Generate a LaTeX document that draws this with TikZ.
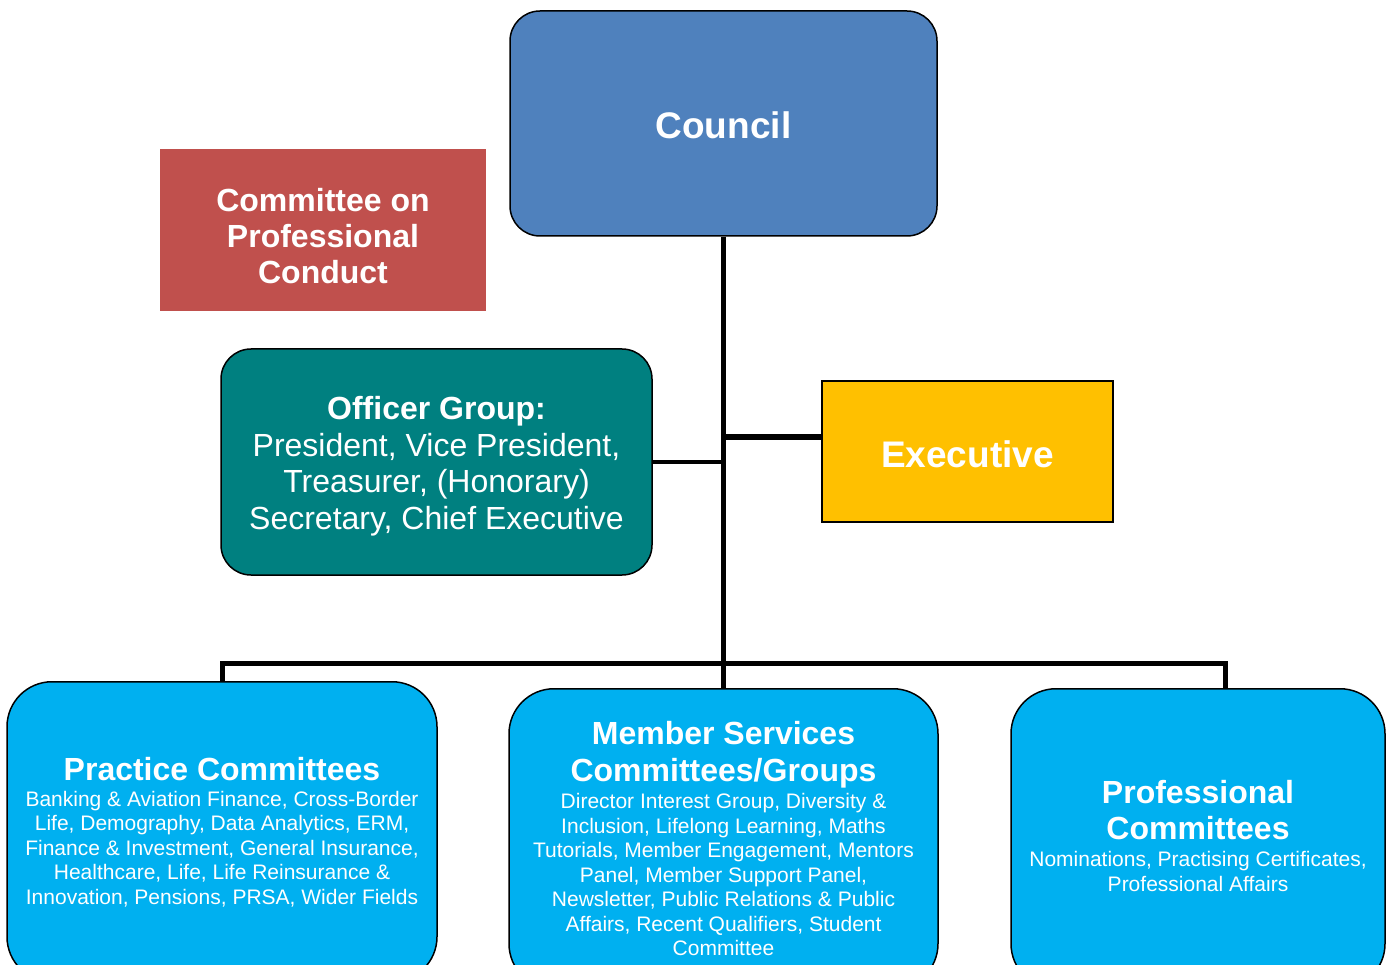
\documentclass[tikz,border=0pt]{standalone}
\usepackage{fontspec}
\setmainfont{Liberation Sans}
\definecolor{councilblue}{HTML}{4F81BD}
\definecolor{conductred}{HTML}{C0504D}
\definecolor{officerteal}{HTML}{008080}
\definecolor{execyellow}{HTML}{FFC000}
\definecolor{committeecyan}{HTML}{00B0F0}
\begin{document}
\begin{tikzpicture}[x=1pt,y=-1pt,
        box/.style={draw=black,line width=1.5pt,text=white,align=center,inner sep=0pt},
        roundbox/.style={box,rounded corners=30pt},
        lowerbox/.style={box,fill=committeecyan,rounded corners=45pt,minimum height=300,anchor=north,
            font=\fontsize{21}{24.5}\selectfont},
        bigtitle/.style={font=\fontsize{37}{40}\selectfont\bfseries},
        link/.style={line width=5pt}]
        \useasboundingbox (0,0) rectangle (1395,965);
        \clip (0,0) rectangle (1395,965);
        \node (council) [roundbox,fill=councilblue,minimum width=427,minimum height=225,bigtitle] at (723.5,123.5) {\rule{0pt}{31pt}Council};
        \node (conduct) [fill=conductred,text=white,align=center,inner sep=0pt,minimum width=326,minimum height=162,
            font=\fontsize{32}{36}\selectfont\bfseries] at (323,230) {\rule{0pt}{35.5pt}Committee on\\Professional\\Conduct};
        \node (officer) [roundbox,fill=officerteal,minimum width=431,minimum height=226,
            font=\fontsize{32}{36.7}\selectfont] at (436.5,462) {\rule{0pt}{31.5pt}\textbf{Officer Group:}\\President, Vice President,\\Treasurer, (Honorary)\\Secretary, Chief Executive};
        \node (exec) [box,fill=execyellow,minimum width=291,minimum height=141,bigtitle] at (967.5,451.5) {\rule{0pt}{33pt}Executive};
        \node (practice) [lowerbox,minimum width=430] at (222,681) {{\fontsize{32}{36}\selectfont\bfseries Practice Committees}\\[1.5pt]
            Banking \& Aviation Finance, Cross-Border\\
            Life, Demography, Data Analytics, ERM,\\
            Finance \& Investment, General Insurance,\\
            Healthcare, Life, Life Reinsurance \&\\
            Innovation, Pensions, PRSA, Wider Fields};
        \node (member) [lowerbox,minimum width=429] at (723.5,688) {{\fontsize{32}{36}\selectfont\bfseries Member Services}\\[12.5pt]
            {\fontsize{32}{36}\selectfont\bfseries Committees/Groups}\\[2.5pt]
            Director Interest Group, Diversity \&\\
            Inclusion, Lifelong Learning, Maths\\
            Tutorials, Member Engagement, Mentors\\
            Panel, Member Support Panel,\\
            Newsletter, Public Relations \& Public\\
            Affairs, Recent Qualifiers, Student\\
            Committee};
        \node (professional) [lowerbox,minimum width=374] at (1198,688) {{\fontsize{32}{36}\selectfont\bfseries Professional}\\[11.5pt]
            {\fontsize{32}{36}\selectfont\bfseries Committees}\\[2.5pt]
            Nominations, Practising Certificates,\\
            Professional Affairs\rule[-6pt]{0pt}{6pt}};
        \coordinate (bus) at (723,663);
        \draw[link] (council.south) -- (council.south |- member.north);
        \draw[line width=6pt] ([yshift=14.5pt]exec.west) -- ([yshift=14.5pt]exec.west -| council.south);
        \draw[line width=4pt] (officer.east) -- (officer.east -| council.south);
        \draw[link] (practice.north) -- (practice.north |- bus) -- ([xshift=27pt]professional.north |- bus) -- ([xshift=27pt]professional.north);
    \end{tikzpicture}
\end{document}
